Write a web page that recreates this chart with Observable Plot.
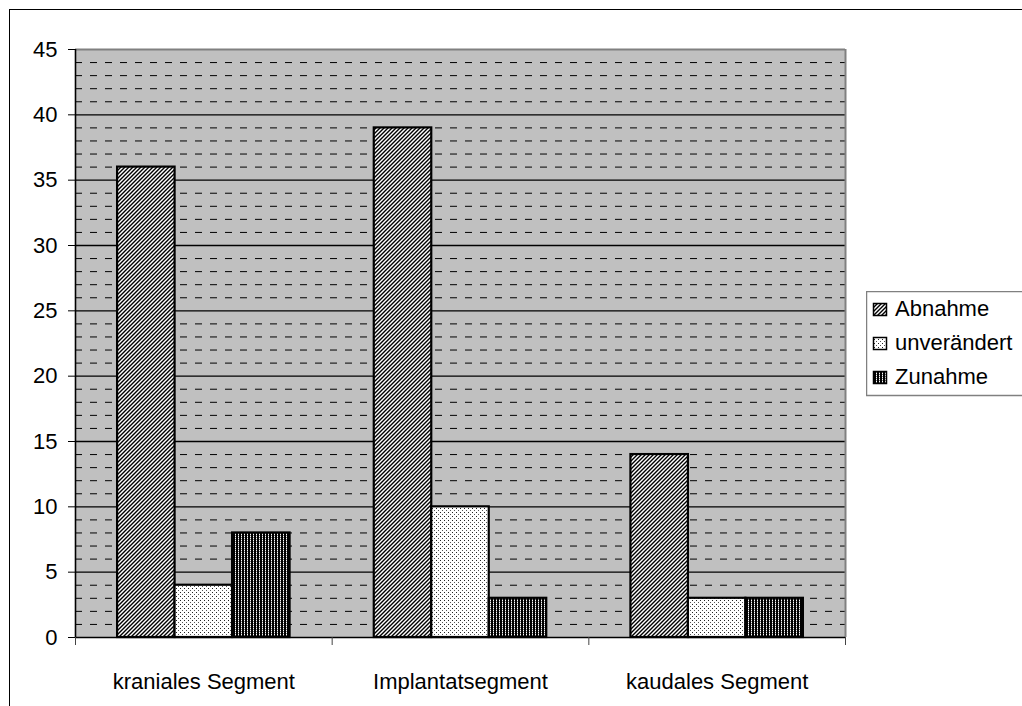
<!DOCTYPE html>
<html><head><meta charset="utf-8">
<script src="https://cdn.jsdelivr.net/npm/d3@7"></script>
<script src="https://cdn.jsdelivr.net/npm/@observablehq/plot@0.6"></script>
<style>
html,body{margin:0;padding:0;overflow:hidden;background:#fff}
#wrap{position:relative;width:1022px;height:706px;overflow:hidden;font-family:"Liberation Sans",Arial,sans-serif}
#frame{position:absolute;left:9px;top:9px;width:1040px;height:740px;border:1px solid #000;box-sizing:border-box;pointer-events:none}
#chart{position:absolute;left:0;top:0}
#legend{position:absolute;left:866px;top:291px}
</style></head>
<body>
<div id="wrap"><div id="frame"></div><div id="chart"></div><div id="legend"></div></div>
<script>
const categories = ["kraniales Segment", "Implantatsegment", "kaudales Segment"];
const series = ["Abnahme", "unverändert", "Zunahme"];
const abnahme = [36, 39, 14];
const unveraendert = [4, 10, 3];
const zunahme = [8, 3, 3];
const yTicks = [0, 5, 10, 15, 20, 25, 30, 35, 40, 45];
const patternIds = {"Abnahme": "pA", "unverändert": "pU", "Zunahme": "pZ"};

const valuesBySeries = [abnahme, unveraendert, zunahme];
const rows = [];
categories.forEach((cat, gi) => {
  series.forEach((s, sj) => {
    rows.push({cat, series: s, value: valuesBySeries[sj][gi], gi, sj});
  });
});
const groupPad = 0.164, barW = 0.224;
const minor = d3.range(1, 45).filter(v => v % 5 !== 0);
const major = yTicks.filter(v => v > 0 && v < 45);

const chart = Plot.plot({
  width: 1022,
  height: 706,
  marginLeft: 75,
  marginRight: 177,
  marginTop: 49,
  marginBottom: 69,
  style: {fontFamily: "'Liberation Sans', Arial, sans-serif", fontSize: "22px", background: "transparent", color: "#000"},
  x: {domain: [0, 3], axis: null},
  y: {domain: [0, 45], axis: null},
  marks: [
    Plot.frame({fill: "#c0c0c0", stroke: null}),
    Plot.ruleY(minor, {stroke: "#000", strokeWidth: 1, strokeDasharray: "7,8"}),
    Plot.ruleY(major, {stroke: "#000", strokeWidth: 1.3}),
    Plot.ruleY([45], {stroke: "#808080", strokeWidth: 2}),
    Plot.ruleX([3], {stroke: "#808080", strokeWidth: 2}),
    Plot.rectY(rows, {
      x1: d => d.gi + groupPad + d.sj * barW,
      x2: d => d.gi + groupPad + (d.sj + 1) * barW,
      y1: 0, y2: "value",
      fill: d => `url(#${patternIds[d.series]})`,
      stroke: "#000", strokeWidth: 2.2
    }),
    Plot.ruleX([0], {stroke: "#000", strokeWidth: 1.6}),
    Plot.ruleY([0], {stroke: "#000", strokeWidth: 1.6}),
    Plot.axisY({ticks: yTicks, tickSize: 7, tickPadding: 11, tickFormat: d => String(d), fontSize: 22, stroke: "#000", label: null}),
    Plot.axisX({ticks: [0, 1, 2, 3], tickSize: 8, tickFormat: () => "", stroke: "#444", label: null}),
    Plot.axisX({ticks: [0.5, 1.5, 2.5], tickSize: 0, tickPadding: 36, tickFormat: v => categories[Math.floor(v)], fontSize: 22, label: null})
  ]
});

const defsHtml = `
<pattern id="pA" width="4" height="4" patternUnits="userSpaceOnUse">
  <rect width="4" height="4" fill="#fff"/>
  <path d="M-1,1 l2,-2 M0,4 l4,-4 M3,5 l2,-2" stroke="#000" stroke-width="1.4"/>
</pattern>
<pattern id="pU" width="4" height="4" patternUnits="userSpaceOnUse">
  <rect width="4" height="4" fill="#fff"/>
  <rect x="0" y="0" width="1" height="1" fill="#222"/>
  <rect x="2" y="2" width="1" height="1" fill="#555"/>
</pattern>
<pattern id="pZ" width="3" height="2" patternUnits="userSpaceOnUse">
  <rect width="3" height="2" fill="#000"/>
  <rect x="1" y="0" width="1" height="1" fill="#fff"/>
  <rect x="1" y="1" width="1" height="1" fill="#777"/>
</pattern>`;
d3.select(chart).insert("defs", ":first-child").html(defsHtml);
document.getElementById("chart").appendChild(chart);

// legend
const lg = d3.select("#legend").append("svg").attr("width", 160).attr("height", 106)
  .style("font-family", "'Liberation Sans', Arial, sans-serif");
lg.append("rect").attr("x", 0.5).attr("y", 0.5).attr("width", 170).attr("height", 104)
  .attr("fill", "#fff").attr("stroke", "#808080").attr("stroke-width", 1.5);
const baselines = [25, 59, 93];
series.forEach((s, i) => {
  lg.append("rect").attr("x", 7.5).attr("y", baselines[i] - 12.5).attr("width", 13).attr("height", 12)
    .attr("fill", `url(#${patternIds[s]})`).attr("stroke", "#000").attr("stroke-width", 1.5);
  lg.append("text").attr("x", 29).attr("y", baselines[i]).attr("font-size", 22).attr("fill", "#000").text(s);
});
</script>
</body></html>
